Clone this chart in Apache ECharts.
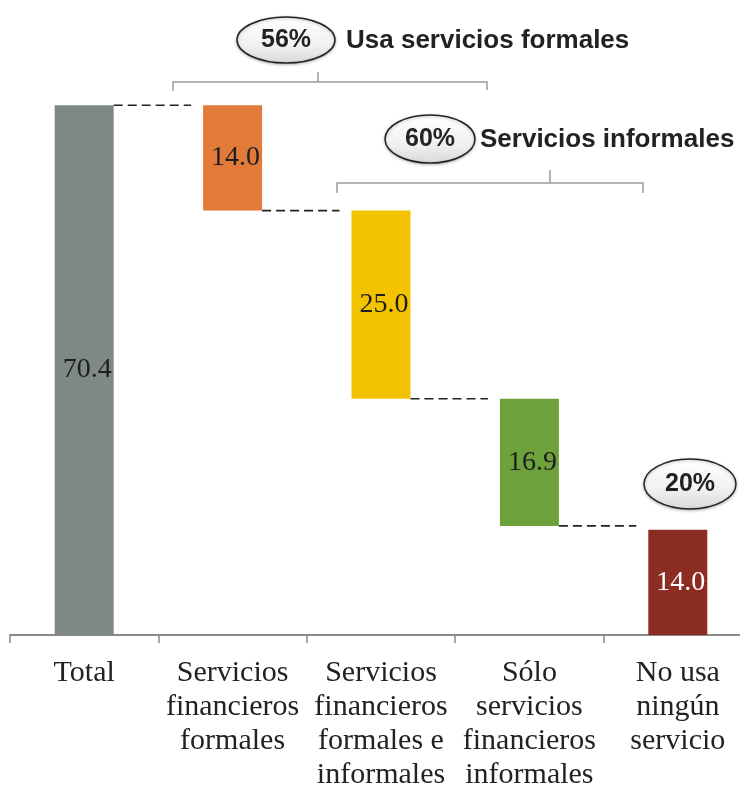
<!DOCTYPE html>
<html>
<head>
<meta charset="utf-8">
<style>
  html, body { margin: 0; padding: 0; background: #ffffff; }
  #chart { width: 740px; height: 785px; }
</style>
<script src="https://cdn.jsdelivr.net/npm/echarts@6/dist/echarts.min.js"></script>
</head>
<body>
<div id="chart"></div>
<script>
// Población por uso de servicios financieros (%)
const categories = [
  'Total',
  'Servicios\nfinancieros\nformales',
  'Servicios\nfinancieros\nformales e\ninformales',
  'Sólo\nservicios\nfinancieros\ninformales',
  'No usa\nningún\nservicio'
];
const values = [70.4, 14.0, 25.0, 16.9, 14.0];
const barColors = ['#7e8983', '#e27a3a', '#f4c300', '#6ca13b', '#8c2d24'];
const labelColors = ['#1e1e1e', '#1e1e1e', '#1e1e1e', '#1e1e1e', '#ffffff'];

// Group shares shown in the callouts
const groupShares = ['56%', '60%', '20%'];
const groupNames = ['Usa servicios formales', 'Servicios informales', ''];

// Waterfall: the three service groups step down from the total;
// the "no usa" group stands on the axis.
const bases = values.map(() => 0);
let level = values[0];
for (let i = 1; i < values.length - 1; i++) {
  level -= values[i];
  bases[i] = level;
}
// Connector levels: top of the total, then the bottom of each step.
const connectors = [[0, values[0]]];
for (let i = 1; i < values.length - 1; i++) connectors.push([i, bases[i]]);

const BAR_W = 59;

const chart = echarts.init(document.getElementById('chart'), null, { renderer: 'canvas' });

const bracketStyle = { stroke: '#9a9a9a', lineWidth: 1.5, fill: null };
const ellipseFill = new echarts.graphic.LinearGradient(0, 0, 0, 1, [
  { offset: 0, color: '#ffffff' },
  { offset: 0.6, color: '#f1f1f1' },
  { offset: 1, color: '#d9d9d9' }
]);
function callout(cx, cy, rx, ry, share) {
  return [
    {
      type: 'ellipse',
      shape: { cx: cx, cy: cy, rx: rx, ry: ry },
      style: { fill: ellipseFill, stroke: '#222', lineWidth: 1.5,
               shadowBlur: 3, shadowColor: 'rgba(0,0,0,0.25)', shadowOffsetY: 1 },
      z: 10
    },
    {
      type: 'text',
      x: cx, y: cy,
      style: { text: share, font: 'bold 25px "Liberation Sans", Arial, sans-serif',
               fill: '#222', align: 'center', verticalAlign: 'middle' },
      z: 11
    }
  ];
}

const option = {
  backgroundColor: '#ffffff',
  animation: false,
  grid: { left: 10, width: 742, top: 33, bottom: 150, containLabel: false, outerBoundsMode: 'none' },
  xAxis: {
    type: 'category',
    data: categories,
    axisLine: { show: true, lineStyle: { color: '#8a8a8a', width: 2 } },
    axisTick: { show: true, length: 8, lineStyle: { color: '#8a8a8a', width: 1.5 } },
    axisLabel: {
      interval: 0,
      margin: 21,
      color: '#222',
      fontFamily: '"Liberation Serif", "Times New Roman", serif',
      fontSize: 30,
      lineHeight: 34,
      verticalAlign: 'top'
    }
  },
  yAxis: {
    type: 'value',
    min: 0,
    max: 80,
    show: false,
    splitLine: { show: false }
  },
  series: [
    {
      type: 'bar',
      stack: 'w',
      barWidth: BAR_W,
      silent: true,
      itemStyle: { color: 'transparent' },
      data: bases
    },
    {
      type: 'bar',
      stack: 'w',
      barWidth: BAR_W,
      data: values.map((v, i) => ({
        value: v,
        itemStyle: { color: barColors[i] },
        label: { color: labelColors[i] }
      })),
      label: {
        show: true,
        position: 'inside',
        offset: [3, 0],
        fontFamily: '"Liberation Serif", "Times New Roman", serif',
        fontSize: 28,
        formatter: p => p.value.toFixed(1)
      }
    },
    {
      // dashed connectors between consecutive bars
      type: 'custom',
      data: connectors,
      z: 5,
      renderItem: function (params, api) {
        const p = api.coord([api.value(0), api.value(1)]);
        const band = api.size([1, 0])[0];
        const x1 = p[0] + BAR_W / 2;
        const x2 = p[0] + band - BAR_W / 2 - 12;
        return {
          type: 'line',
          shape: { x1: x1, y1: p[1], x2: x2, y2: p[1] },
          style: { stroke: '#222', lineWidth: 1.6, lineDash: [9, 5] }
        };
      }
    }
  ],
  graphic: [
    // formal services bracket
    { type: 'polyline', shape: { points: [[173, 91], [173, 82], [487, 82], [487, 90]] }, style: bracketStyle },
    { type: 'line', shape: { x1: 318, y1: 82, x2: 318, y2: 72 }, style: bracketStyle },
    // informal services bracket
    { type: 'polyline', shape: { points: [[337, 193], [337, 183], [643, 183], [643, 193]] }, style: bracketStyle },
    { type: 'line', shape: { x1: 550, y1: 183, x2: 550, y2: 170 }, style: bracketStyle },
    ...callout(286, 40, 49, 23, groupShares[0]),
    {
      type: 'text', x: 346, y: 41,
      style: { text: groupNames[0], font: 'bold 26px "Liberation Sans", Arial, sans-serif',
               fill: '#222', align: 'left', verticalAlign: 'middle' }
    },
    ...callout(430, 139, 45, 24, groupShares[1]),
    {
      type: 'text', x: 480, y: 140,
      style: { text: groupNames[1], font: 'bold 26px "Liberation Sans", Arial, sans-serif',
               fill: '#222', align: 'left', verticalAlign: 'middle' }
    },
    ...callout(690, 484, 46, 25, groupShares[2])
  ]
};

chart.setOption(option);
</script>
</body>
</html>
